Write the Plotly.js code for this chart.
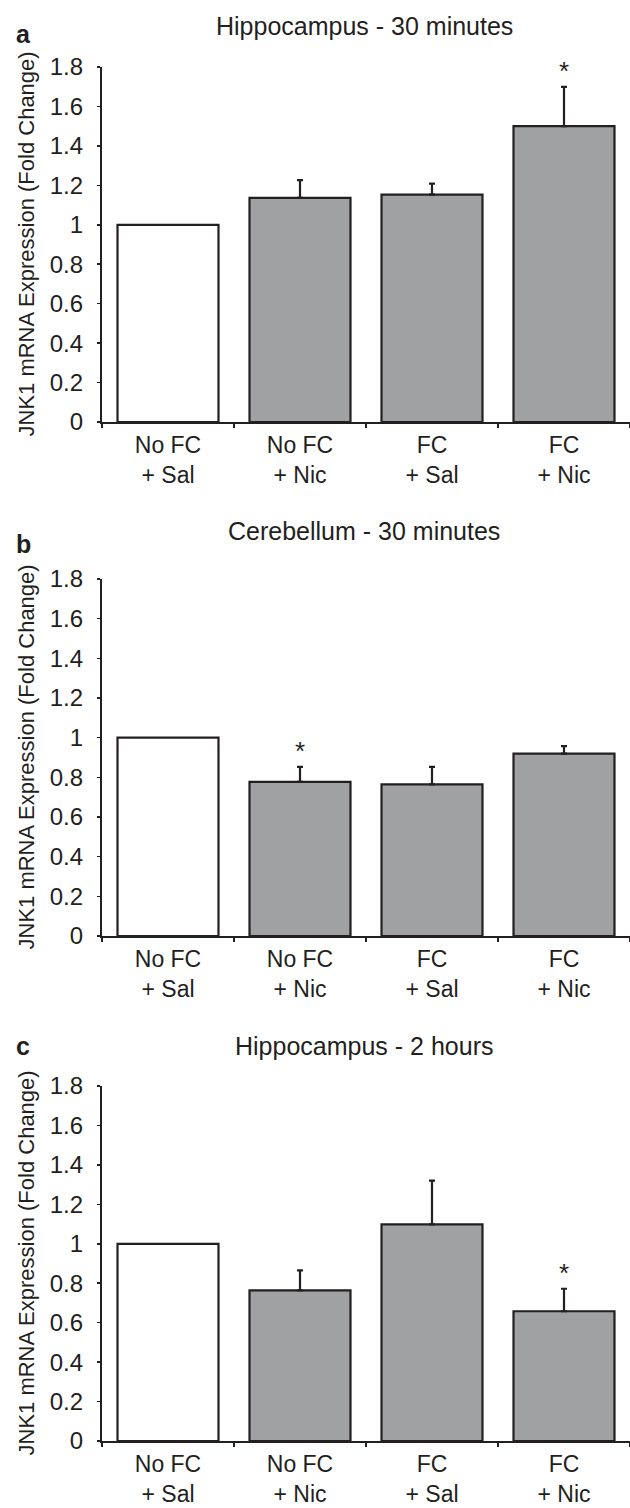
<!DOCTYPE html>
<html>
<head>
<meta charset="utf-8">
<script src="https://cdn.plot.ly/plotly-3.0.1.min.js"></script>
<style>html,body{margin:0;padding:0;background:#fff;}#chart{width:630px;height:1508px;}</style>
</head>
<body>
<div id="chart"></div>
<script>
// ---- data ----
const categories = ['No FC<br>+ Sal', 'No FC<br>+ Nic', 'FC<br>+ Sal', 'FC<br>+ Nic'];
const panelTitles = ['Hippocampus - 30 minutes', 'Cerebellum - 30 minutes', 'Hippocampus - 2 hours'];
const panelLetters = ['a', 'b', 'c'];
const yTitle = 'JNK1 mRNA Expression (Fold Change)';
const yTicks = [0, 0.2, 0.4, 0.6, 0.8, 1, 1.2, 1.4, 1.6, 1.8];

const hippo30Mean = [1.00, 1.136, 1.153, 1.50];
const hippo30Err  = [null, 0.090, 0.056, 0.199];
const hippo30Sig  = ['', '', '', '*'];

const cereb30Mean = [1.00, 0.777, 0.765, 0.920];
const cereb30Err  = [null, 0.076, 0.088, 0.037];
const cereb30Sig  = ['', '*', '', ''];

const hippo2hMean = [1.00, 0.764, 1.098, 0.658];
const hippo2hErr  = [null, 0.101, 0.222, 0.114];
const hippo2hSig  = ['', '', '', '*'];

const barColors = ['#ffffff', '#a0a1a3', '#a0a1a3', '#a0a1a3'];

// ---- build ----
const INK = '#231f20';
const FONT = 'Liberation Sans, Arial, sans-serif';
const panels = [
  {mean: hippo30Mean, err: hippo30Err, sig: hippo30Sig},
  {mean: cereb30Mean, err: cereb30Err, sig: cereb30Sig},
  {mean: hippo2hMean, err: hippo2hErr, sig: hippo2hSig}
];
const H = 1508;
// pixel positions (top of 1.8, bottom at 0) for each panel
const pix = [[67, 422], [579, 936], [1086, 1441]];
const titleY = [26, 531, 1046];
const letterY = [34, 544, 1046];

const traces = [];
const layout = {
  width: 630, height: 1508,
  margin: {l: 102, r: 0, t: 0, b: 0},
  paper_bgcolor: '#fff', plot_bgcolor: '#fff',
  showlegend: false, hovermode: false,
  bargap: 0.235,
  font: {family: FONT, color: INK},
  annotations: []
};

panels.forEach((p, i) => {
  const sx = i === 0 ? '' : String(i + 1);
  const xa = 'x' + sx, ya = 'y' + sx;
  traces.push({
    type: 'bar', x: categories, y: p.mean, xaxis: xa, yaxis: ya,
    marker: {color: barColors, line: {color: INK, width: 2.2}},
    error_y: {type: 'data', symmetric: false,
              array: p.err.map(e => (e === null ? NaN : e)),
              arrayminus: p.err.map(e => (e === null ? NaN : 0)),
              color: INK, thickness: 2.2, width: 3}
  });
  traces.push({
    type: 'scatter', mode: 'text', x: categories,
    y: p.mean.map((m, k) => m + (p.err[k] || 0)),
    text: p.sig, textposition: 'top center',
    textfont: {family: FONT, size: 26, color: INK},
    xaxis: xa, yaxis: ya, cliponaxis: false
  });
  const top = (H - pix[i][0]) / H, bot = (H - pix[i][1]) / H;
  layout['xaxis' + sx] = {
    type: 'category', categoryorder: 'array', categoryarray: categories,
    range: [-0.5, 3.5], anchor: ya, domain: [0, 1],
    showline: true, linecolor: INK, linewidth: 2.2,
    ticks: 'outside', tickson: 'boundaries', ticklen: 4, tickwidth: 1.5, tickcolor: INK,
    ticklabelstandoff: 1,
    tickfont: {family: FONT, size: 23, color: INK},
    showgrid: false, zeroline: false, fixedrange: true
  };
  layout['yaxis' + sx] = {
    range: [0, 1.8], tickvals: yTicks, ticktext: yTicks.map(String), anchor: xa, domain: [bot, top],
    showline: true, linecolor: INK, linewidth: 2.2,
    ticks: 'outside', ticklen: 3, tickwidth: 1.5, tickcolor: INK,
    ticklabelstandoff: 9,
    tickfont: {family: FONT, size: 24, color: INK},
    showgrid: false, zeroline: false, fixedrange: true
  };
  layout.annotations.push({
    text: panelTitles[i], xref: 'paper', yref: 'paper',
    x: (364 - 102) / 528, y: (H - titleY[i]) / H, xanchor: 'center', yanchor: 'middle',
    showarrow: false, font: {family: FONT, size: 25, color: INK}
  });
  layout.annotations.push({
    text: '<b>' + panelLetters[i] + '</b>', xref: 'paper', yref: 'paper',
    x: (23 - 102) / 528, y: (H - letterY[i]) / H, xanchor: 'center', yanchor: 'middle',
    showarrow: false, font: {family: FONT, size: 25, color: INK}
  });
  layout.annotations.push({
    text: yTitle, xref: 'paper', yref: 'paper', textangle: -90,
    x: (26 - 102) / 528, y: (bot + top) / 2, xanchor: 'center', yanchor: 'middle',
    showarrow: false, font: {family: FONT, size: 22, color: INK}
  });
});

Plotly.newPlot('chart', traces, layout, {staticPlot: true, displayModeBar: false});
</script>
</body>
</html>
